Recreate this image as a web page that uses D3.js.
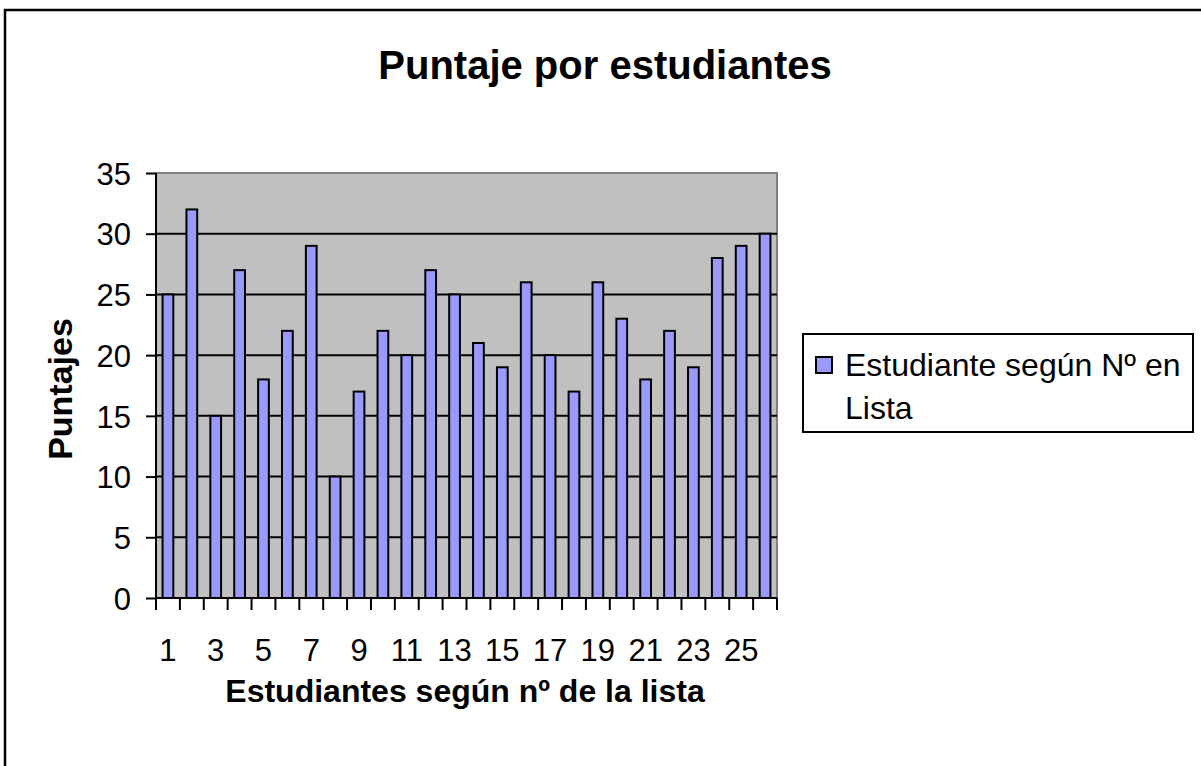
<!DOCTYPE html>
<html>
<head>
<meta charset="utf-8">
<script src="https://cdn.jsdelivr.net/npm/d3@7"></script>
<style>
  body { margin: 0; background: #fff; }
  svg text { font-family: "Liberation Sans", Arial, sans-serif; fill: #000; }
</style>
</head>
<body>
<div class="chart"></div>
<script>
// data
const students = d3.range(1, 27);
const scores = [25, 32, 15, 27, 18, 22, 29, 10, 17, 22, 20, 27, 25, 21, 19, 26, 20, 17, 26, 23, 18, 22, 19, 28, 29, 30];
const y_ticks = [0, 5, 10, 15, 20, 25, 30, 35];
const x_labels = [1, 3, 5, 7, 9, 11, 13, 15, 17, 19, 21, 23, 25];

const title = "Puntaje por estudiantes";
const x_title = "Estudiantes según nº de la lista";
const y_title = "Puntajes";
const series_name = ["Estudiante según Nº en", "Lista"];

const W = 1201, H = 766;
const plot = { left: 156, right: 777, top: 173, bottom: 598 };

const bar_fill = "#9999ff";
const plot_bg = "#c0c0c0";

const svg = d3.select(".chart")
    .append("svg")
    .attr("width", W)
    .attr("height", H);

// outer chart frame (runs off the picture to the right and bottom)
svg.append("rect")
    .attr("x", 5).attr("y", 10)
    .attr("width", W + 20).attr("height", H + 20)
    .attr("fill", "#fff")
    .attr("stroke", "#000")
    .attr("stroke-width", 2.5);

// scales
const x_scale = d3.scaleBand()
    .domain(students)
    .range([plot.left, plot.right])
    .paddingInner(0.55)
    .paddingOuter(0.275);

const x_step = (plot.right - plot.left) / students.length;

const y_scale = d3.scaleLinear()
    .domain([0, 35])
    .range([plot.bottom, plot.top]);

// plot area
svg.append("rect")
    .attr("x", plot.left).attr("y", plot.top)
    .attr("width", plot.right - plot.left)
    .attr("height", plot.bottom - plot.top)
    .attr("fill", plot_bg)
    .attr("stroke", "#808080")
    .attr("stroke-width", 2);

// gridlines
svg.append("g")
    .selectAll("line")
    .data(y_ticks.filter(d => d > 0 && d < 35))
    .enter()
    .append("line")
    .attr("x1", plot.left).attr("x2", plot.right)
    .attr("y1", d => y_scale(d)).attr("y2", d => y_scale(d))
    .attr("stroke", "#000")
    .attr("stroke-width", 2);

// bars
svg.append("g")
    .selectAll("rect")
    .data(scores)
    .enter()
    .append("rect")
    .attr("x", (d, i) => x_scale(students[i]))
    .attr("y", d => y_scale(d))
    .attr("width", x_scale.bandwidth())
    .attr("height", d => y_scale(0) - y_scale(d))
    .attr("fill", bar_fill)
    .attr("stroke", "#000")
    .attr("stroke-width", 2);

// y axis
const y_axis = svg.append("g")
    .attr("transform", `translate(${plot.left},0)`)
    .call(d3.axisLeft(y_scale)
        .tickValues(y_ticks)
        .tickSize(10)
        .tickPadding(15));
y_axis.select(".domain").attr("stroke-width", 2).attr("d", `M0,${plot.top}V${plot.bottom}`);
y_axis.selectAll(".tick line").attr("stroke-width", 2);
y_axis.selectAll("text")
    .style("font-size", "31px")
    .attr("dy", "0.36em");

// x axis: ticks between categories, labels on odd students
const boundaries = d3.range(0, students.length + 1).map(i => plot.left + i * x_step);
const x_axis = svg.append("g");
x_axis.append("line")
    .attr("x1", plot.left).attr("x2", plot.right)
    .attr("y1", plot.bottom).attr("y2", plot.bottom)
    .attr("stroke", "#000")
    .attr("stroke-width", 2);
x_axis.selectAll("line.tick")
    .data(boundaries)
    .enter()
    .append("line")
    .attr("class", "tick")
    .attr("x1", d => d).attr("x2", d => d)
    .attr("y1", plot.bottom).attr("y2", plot.bottom + 12)
    .attr("stroke", "#000")
    .attr("stroke-width", 2);
x_axis.selectAll("text")
    .data(x_labels)
    .enter()
    .append("text")
    .attr("x", d => x_scale(d) + x_scale.bandwidth() / 2)
    .attr("y", 661)
    .attr("text-anchor", "middle")
    .style("font-size", "31px")
    .text(d => d);

// titles
svg.append("text")
    .attr("x", 605).attr("y", 79)
    .attr("text-anchor", "middle")
    .style("font-size", "40px")
    .style("font-weight", "bold")
    .text(title);

svg.append("text")
    .attr("x", 465).attr("y", 702)
    .attr("text-anchor", "middle")
    .style("font-size", "32px")
    .style("font-weight", "bold")
    .text(x_title);

svg.append("text")
    .attr("transform", "translate(72,389) rotate(-90)")
    .attr("text-anchor", "middle")
    .style("font-size", "34px")
    .style("font-weight", "bold")
    .text(y_title);

// legend
const legend = svg.append("g");
legend.append("rect")
    .attr("x", 803).attr("y", 334)
    .attr("width", 390).attr("height", 98)
    .attr("fill", "#fff")
    .attr("stroke", "#000")
    .attr("stroke-width", 2);
legend.append("rect")
    .attr("x", 816).attr("y", 357)
    .attr("width", 16).attr("height", 16)
    .attr("fill", bar_fill)
    .attr("stroke", "#000")
    .attr("stroke-width", 2);
legend.selectAll("text.item")
    .data(series_name)
    .enter()
    .append("text")
    .attr("class", "item")
    .attr("x", 845)
    .attr("y", (d, i) => 376 + i * 43)
    .style("font-size", "32px")
    .text(d => d);
</script>
</body>
</html>
